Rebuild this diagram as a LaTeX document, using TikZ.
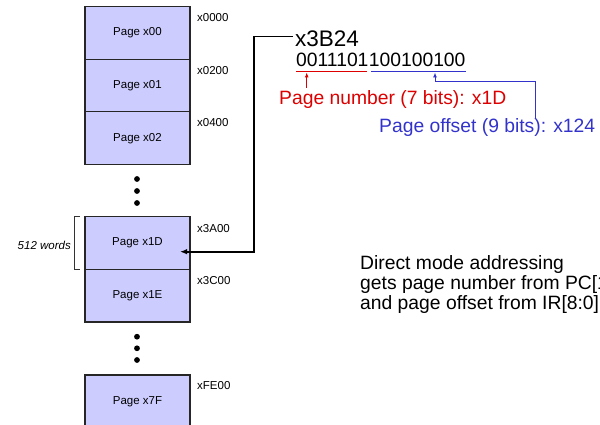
\documentclass[tikz,border=0pt]{standalone}
\usepackage{fontspec}
\setmainfont{Liberation Sans}
\usetikzlibrary{arrows.meta}
\definecolor{pagefill}{RGB}{204,204,255}
\definecolor{bitred}{RGB}{221,0,0}
\definecolor{bitblue}{RGB}{51,51,204}

\begin{document}
\begin{tikzpicture}[x=1pt,y=-1pt,
  page/.style={draw=black!85, line width=1.2pt, fill=pagefill,
    minimum width=105pt, minimum height=52.6pt, inner sep=0pt,
    font=\fontsize{11.5}{13}\selectfont},
  addrlabel/.style={anchor=west, inner sep=0pt, font=\fontsize{11.5}{13}\selectfont},
  bigtext/.style={inner sep=0pt, font=\fontsize{19.3}{22}\selectfont},
  memdot/.style={circle, fill=black, inner sep=0pt, minimum size=5.8pt},
  mainlink/.style={line width=1.6pt, -{Latex[length=7pt,width=5.5pt]}},
  fieldlink/.style={line width=0.9pt, -{Latex[length=5pt,width=4pt]}}
]
\useasboundingbox (0,0) rectangle (600,425);

% memory pages
\node[page] (p00) at (137.5,33.0)  {Page x00};
\node[page] (p01) at (137.5,85.6)  {Page x01};
\node[page] (p02) at (137.5,138.2) {Page x02};
\node[page] (p1D) at (137.5,243.0) {Page x1D};
\node[page] (p1E) at (137.5,295.6) {Page x1E};
\node[page] (p7F) at (137.5,401.3) {Page x7F};

% ellipsis dots
\foreach \y [count=\i] in {179,191,203}
  \node[memdot] (da\i) at (137,\y) {};
\foreach \y [count=\i] in {336.7,348.3,360}
  \node[memdot] (db\i) at (137,\y) {};

% start addresses
\node[addrlabel] (a00) at (197,17.5)  {x0000};
\node[addrlabel] (a01) at (197,70.1)  {x0200};
\node[addrlabel] (a02) at (197,122.7) {x0400};
\node[addrlabel] (a1D) at (197,228.3) {x3A00};
\node[addrlabel] (a1E) at (197,280.9) {x3C00};
\node[addrlabel] (a7F) at (197,386.0) {xFE00};

% page size bracket
\draw[line width=0.8pt, black!80] (80,216.7) -- (74,216.7) -- (74,269.3) -- (80,269.3);
\node[anchor=east, inner sep=0pt, font=\fontsize{11.5}{13}\selectfont\itshape]
  (words) at (71,245) {512 words};

% address and its bit fields
\node[anchor=base west, inner sep=0pt, font=\fontsize{22.5}{26}\selectfont]
  (addr) at (295,46.7) {x3B24};
\node[bigtext, anchor=base west] (pnbits) at (296,66.7) {0011101};
\node[bigtext, anchor=base west] (pobits) at (pnbits.base east) {100100100};
\draw[bitred, line width=1pt] ([yshift=-4pt]pnbits.south west) -- ([xshift=-2pt,yshift=-4pt]pnbits.south east);
\draw[bitblue, line width=1pt] ([xshift=2.5pt,yshift=-4pt]pobits.south west) -- ([yshift=-4pt]pobits.south east);

\node[bigtext, anchor=base west, text=bitred] (pn) at (279,105) {Page number (7 bits): x1D};
\node[bigtext, anchor=base west, text=bitblue] (po) at (379,133) {Page offset (9 bits): x124};

\coordinate (redtip) at (306.7,72.5);
\coordinate (bluetip) at (435,72.5);
\coordinate (blueturn) at (535,81);
\draw[fieldlink, bitred] ([yshift=3pt]pn.north -| redtip) -- (redtip);
\draw[fieldlink, bitblue] ([yshift=-0.5pt]po.north -| blueturn) -- (blueturn) -| (bluetip);

% address selects the page
\coordinate (turn) at (254,251.7);
\coordinate (hit) at (180,251.7);
\draw[mainlink] ([xshift=-2pt,yshift=2.5pt]addr.west) -| (turn) -- (hit);

% note
\node[bigtext, anchor=base west] (dm1) at (360,269.5) {Direct mode addressing};
\node[bigtext, anchor=base west] (dm2) at (360,289.3) {gets page number from PC[15:9]};
\node[bigtext, anchor=base west] (dm3) at (360,309) {and page offset from IR[8:0]};
\end{tikzpicture}
\end{document}
